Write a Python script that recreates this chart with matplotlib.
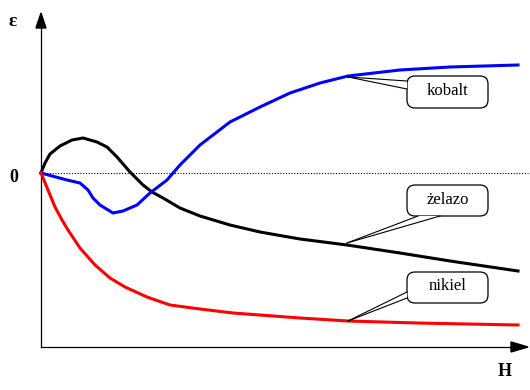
import matplotlib
matplotlib.use("Agg")
import matplotlib.pyplot as plt
from matplotlib.patches import FancyBboxPatch, Polygon

# ─────────────────────────────────────────────
# DATA (H in px from the axis, eps in px above the zero line)
# ─────────────────────────────────────────────
fe_H   = [0, 4, 9, 19, 31, 42, 56, 66, 76, 89, 102, 111, 122, 139, 159, 189, 219, 259, 306, 359, 409, 477]
fe_eps = [0, 10, 19, 27, 33, 35, 31, 26, 16, 1, -12, -19, -25, -35, -43, -52, -59, -66, -72, -80, -88, -98]

co_H   = [0, 26, 39, 47, 52, 59, 72, 82, 96, 109, 126, 139, 159, 189, 219, 249, 279, 307, 359, 409, 477]
co_eps = [0, -7, -10, -17, -25, -32, -40, -38, -32, -20, -7, 8, 28, 51, 66, 80, 90, 97, 103, 106, 108]

ni_H   = [0, 7, 14, 21, 27, 39, 54, 69, 84, 106, 129, 159, 192, 259, 307, 376, 477]
ni_eps = [0, -17, -34, -47, -57, -75, -92, -105, -114, -124, -132, -136, -140, -145, -148, -150, -152]

labels = ["kobalt", "żelazo", "nikiel"]
# callout: box (x0, y0, x1, y1), tip, two wedge base points
callouts = [
    ((366, 65, 447, 97), (307, 96), (366, 92), (366, 84)),
    ((366, -43, 447, -12), (306, -70), (377, -43), (399, -43)),
    ((366, -130, 447, -99), (307, -148), (366, -119), (366, -125)),
]

fig = plt.figure(figsize=(5.3, 3.9), dpi=100)
ax = fig.add_axes([0, 0, 1, 1])
ax.set_xlim(-41, 489)
ax.set_ylim(-217, 173)
ax.axis("off")

# axes with arrows
ax.plot([0, 0], [-174, 148], color="black", lw=0.9)
ax.plot([0, 472], [-174, -174], color="black", lw=0.9)
ax.add_patch(Polygon([(-5, 145), (5, 145), (0, 160)], closed=True, color="black"))
ax.add_patch(Polygon([(470, -169), (470, -179), (487, -174)], closed=True, color="black"))
ax.plot([0, 487], [0, 0], color="black", lw=0.8, linestyle=(0, (1, 1.5)))

ax.plot(fe_H, fe_eps, color="black", lw=2.2, zorder=3)
ax.plot(co_H, co_eps, color="#0000ff", lw=2.2, zorder=3)
ax.plot(ni_H, ni_eps, color="#ff0000", lw=2.2, zorder=3)

serif = "Liberation Serif"
ax.text(-28, 151, "ε", fontsize=14, fontweight="bold", family=serif, ha="center", va="center")
ax.text(-27, -5, "0", fontsize=13, fontweight="bold", family=serif, ha="center", va="center")
ax.text(464, -199, "H", fontsize=13, fontweight="bold", family=serif, ha="center", va="center")

for name, (box, tip, b1, b2) in zip(labels, callouts):
    x0, y0, x1, y1 = box
    ax.add_patch(FancyBboxPatch((x0, y0), x1 - x0, y1 - y0,
                                boxstyle="round,pad=0,rounding_size=8",
                                fc="white", ec="black", lw=0.9, zorder=4))
    ax.add_patch(Polygon([tip, b1, b2], closed=True, fc="white", ec="none", zorder=5))
    ax.plot([tip[0], b1[0]], [tip[1], b1[1]], color="black", lw=0.8, zorder=6)
    ax.plot([tip[0], b2[0]], [tip[1], b2[1]], color="black", lw=0.8, zorder=6)
    ax.text((x0 + x1) / 2, (y0 + y1) / 2 + 1, name, fontsize=12, family=serif,
            ha="center", va="center", zorder=7)

fig.savefig("out.png", dpi=100)
